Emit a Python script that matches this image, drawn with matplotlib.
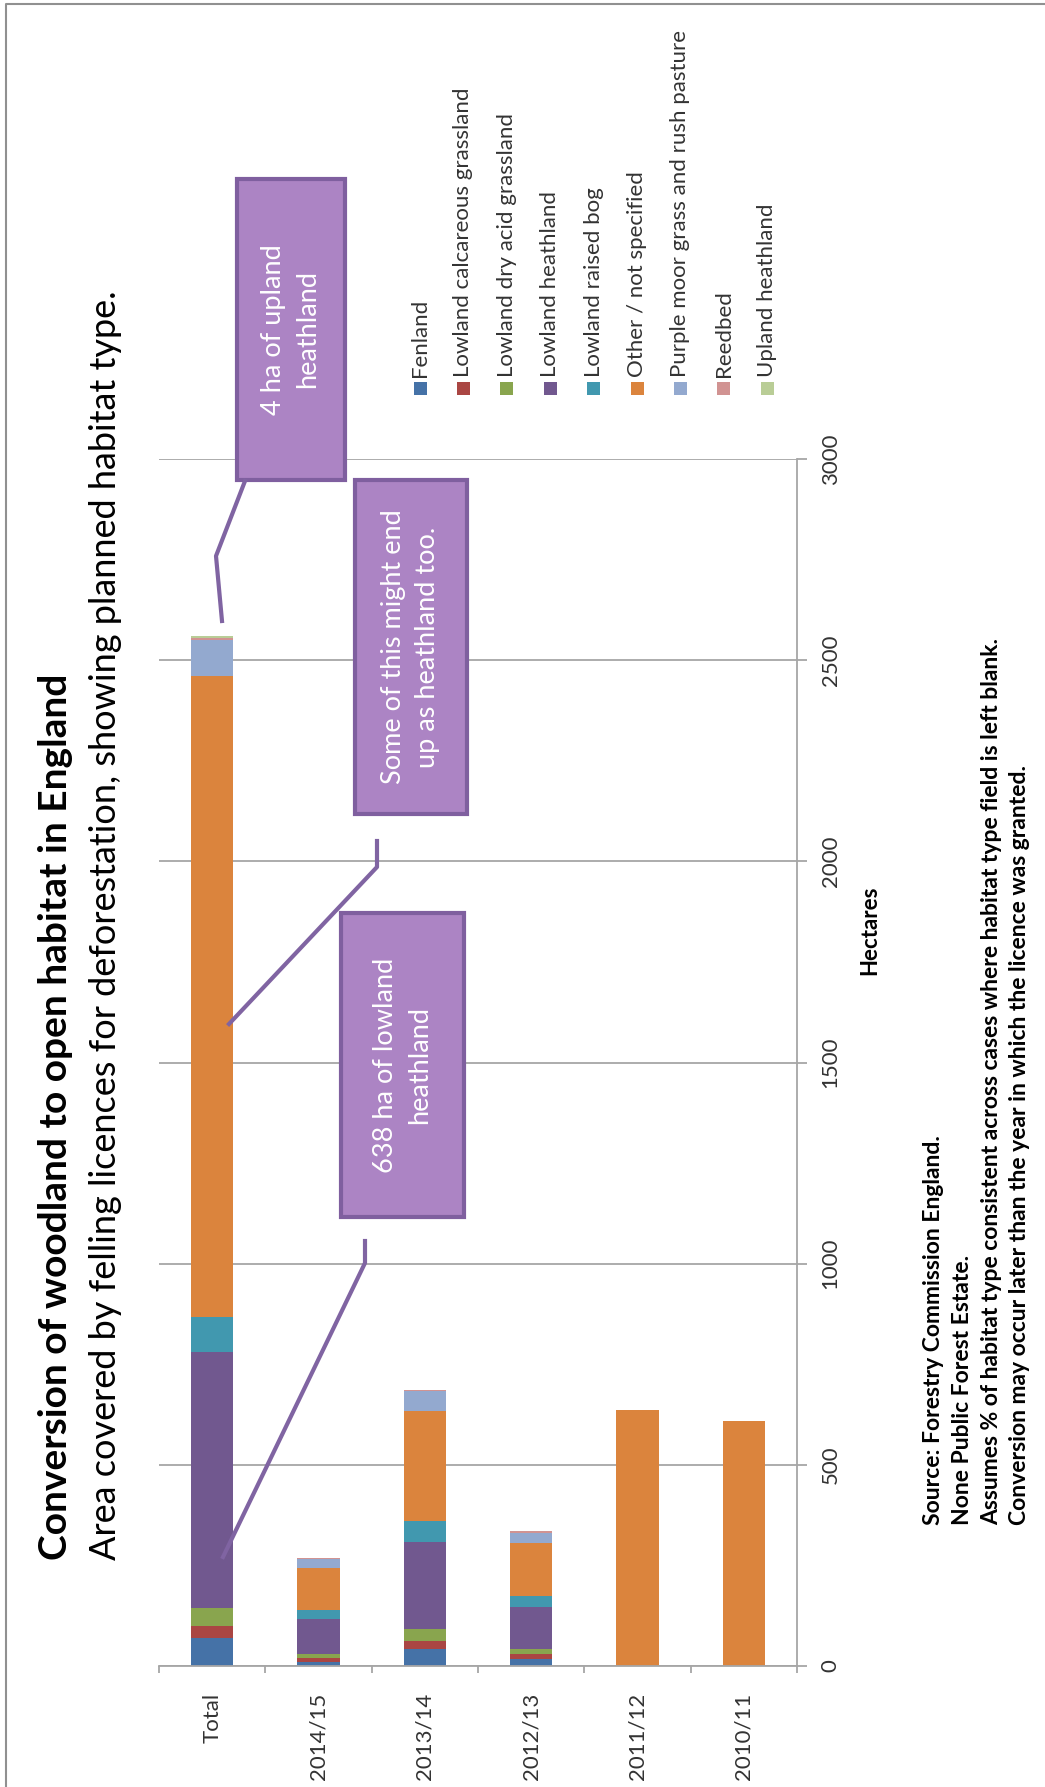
import numpy as np
import matplotlib
matplotlib.use("Agg")
from matplotlib import pyplot as plt
from matplotlib.patches import Rectangle
from matplotlib.lines import Line2D

plt.rcParams['font.family'] = ['Lato', 'DejaVu Sans']

# data
categories = ["Total", "2014/15", "2013/14", "2012/13", "2011/12", "2010/11"]
habitats = ["Fenland", "Lowland calcareous grassland", "Lowland dry acid grassland",
            "Lowland heathland", "Lowland raised bog", "Other / not specified",
            "Purple moor grass and rush pasture", "Reedbed", "Upland heathland"]
fenland = [69, 11, 42, 17, 0, 0]
calcareous = [31, 9, 21, 12, 0, 0]
dry_acid = [43, 11, 28, 14, 0, 0]
lowland_heath = [638, 85, 218, 104, 0, 0]
raised_bog = [86, 22, 51, 26, 0, 0]
other = [1594, 105, 273, 133, 637, 609]
purple_moor = [89, 22, 50, 24, 0, 0]
reedbed = [6, 3, 4, 5, 0, 0]
upland_heath = [4, 0, 0, 0, 0, 0]
series = [fenland, calcareous, dry_acid, lowland_heath, raised_bog,
          other, purple_moor, reedbed, upland_heath]
colors = ["#4572A7", "#AA4643", "#89A54E", "#71588F", "#4198AF",
          "#DB843D", "#93A9CF", "#D19392", "#B9CD96"]

W, H = 1045, 1787
fig = plt.figure(figsize=(W / 100, H / 100), dpi=100)


def fx(p):
    return p / W


def fy(p):
    return 1 - p / H


ax = fig.add_axes([fx(159), fy(1666), fx(797) - fx(159), fy(459) - fy(1666)])

x = np.arange(len(categories))
bottom = np.zeros(len(categories))
for vals, c in zip(series, colors):
    ax.bar(x, vals, 0.4, bottom=bottom, color=c, linewidth=0)
    bottom += np.array(vals)

ax.set_xlim(-0.5, 5.5)
ax.set_ylim(0, 3000)
ax.set_yticks(np.arange(0, 3001, 500))
ax.yaxis.tick_right()
ax.yaxis.grid(True, color="#A6A6A6", linewidth=1.3)
ax.set_axisbelow(True)
for s in ["left", "top"]:
    ax.spines[s].set_visible(False)
for s in ["right", "bottom"]:
    ax.spines[s].set_color("#A6A6A6")
    ax.spines[s].set_linewidth(1.3)
ax.tick_params(axis="y", length=7, color="#A6A6A6", width=1.3, pad=10,
               labelsize=16, labelrotation=90, labelcolor="#333333")
for t in ax.yaxis.get_ticklabels():
    t.set_va("center")
    t.set_ha("left")

ax.set_xticks(x)
ax.set_xticklabels(categories, rotation=90, fontsize=16, color="#333333")
ax.set_xticks(np.arange(-0.5, 6, 1), minor=True)
ax.tick_params(axis="x", which="major", length=0, pad=19)
ax.tick_params(axis="x", which="minor", length=5, color="#A6A6A6", width=1.3)

# titles
fig.text(fx(56), fy(1560), "Conversion of woodland to open habitat in England",
         rotation=90, ha="center", va="bottom", fontsize=28, fontweight="bold")
fig.text(fx(106), fy(1560),
         "Area covered by felling licences for deforestation, showing planned habitat type.",
         rotation=90, ha="center", va="bottom", fontsize=26)

# legend, drawn rotated by hand
for i, (name, c) in enumerate(zip(habitats, colors)):
    cx = 420 + i * 43.4
    fig.add_artist(Rectangle((fx(cx - 6.5), fy(395)), 13 / W, 13 / H,
                             transform=fig.transFigure, color=c, lw=0))
    fig.text(fx(cx), fy(377), name, rotation=90, ha="center", va="bottom",
             fontsize=16, color="#333333")

fig.text(fx(870), fy(930), "Hectares", rotation=90, ha="center", va="center",
         fontsize=16, fontweight="bold")

notes = ["Source: Forestry Commission England.",
         "None Public Forest Estate.",
         "Assumes % of habitat type consistent across cases where habitat type field is left blank.",
         "Conversion may occur later than the year in which the licence was granted."]
for i, n in enumerate(notes):
    fig.text(fx(934 + i * 28.6), fy(1525), n, rotation=90, ha="center", va="bottom",
             fontsize=16.5, fontweight="bold")

# callouts
box_fc, box_ec = "#AC84C4", "#7F5F9F"
callouts = [
    ((237, 179, 345, 480), "4 ha of upland\nheathland",
     [(245, 481), (216, 556), (222, 621)]),
    ((355, 480, 467, 814), "Some of this might end\nup as heathland too.",
     [(377, 841), (377, 867), (229, 1024)]),
    ((341, 913, 464, 1217), "638 ha of lowland\nheathland",
     [(365, 1241), (365, 1263), (223, 1557)]),
]
for (x0, y0, x1, y1), txt, pts in callouts:
    fig.add_artist(Rectangle((fx(x0), fy(y1)), (x1 - x0) / W, (y1 - y0) / H,
                             transform=fig.transFigure, facecolor=box_fc,
                             edgecolor=box_ec, linewidth=3, zorder=5))
    fig.text(fx((x0 + x1) / 2), fy((y0 + y1) / 2), txt, rotation=90, ha="center",
             va="center", fontsize=19.5, color="white", linespacing=1.45, zorder=6)
    fig.add_artist(Line2D([fx(p[0]) for p in pts], [fy(p[1]) for p in pts],
                          transform=fig.transFigure, color="#8064A2", lw=3, zorder=5))

# frame
fig.add_artist(Line2D([fx(6), fx(6), fx(W)], [0, fy(4), fy(4)],
                      transform=fig.transFigure, color="#909090", lw=1.5))

fig.savefig("out.png", dpi=100)
